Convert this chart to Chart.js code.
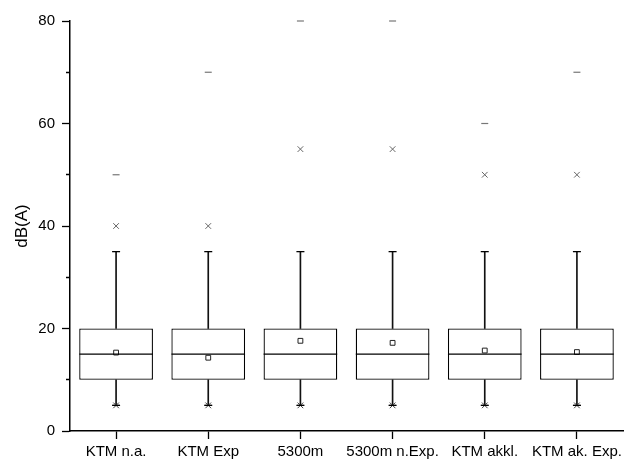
<!DOCTYPE html>
<html>
<head>
<meta charset="utf-8">
<script src="https://cdn.jsdelivr.net/npm/chart.js@4"></script>
<style>
  html, body { margin: 0; padding: 0; background: #fff; }
  #wrap { width: 625px; height: 461px; }
</style>
</head>
<body>
<div id="wrap"><canvas id="boxChart"></canvas></div>
<script>
var categories = ['KTM n.a.', 'KTM Exp', '5300m', '5300m n.Exp.', 'KTM akkl.', 'KTM ak. Exp.'];
var q1 = [10, 10, 10, 10, 10, 10];
var q3 = [20, 20, 20, 20, 20, 20];
var medians = [15, 15, 15, 15, 15, 15];
var means = [15.3, 14.3, 17.6, 17.2, 15.7, 15.4];
var whiskerLow = [5, 5, 5, 5, 5, 5];
var whiskerHigh = [35, 35, 35, 35, 35, 35];
var p1 = [5, 5, 5, 5, 5, 5];
var p99 = [40, 40, 55, 55, 50, 50];
var minVals = [5, 5, 5, 5, 5, 5];
var maxVals = [50, 70, 80, 80, 60, 70];
var yTicks = [0, 20, 40, 60, 80];

var fontFamily = '"Liberation Sans", Arial, sans-serif';

function pairs(a, b) {
  return a.map(function(v, i) { return [v, b[i]]; });
}

function markers(data, style, radius, color, width, fill) {
  return {
    type: 'line',
    data: data,
    showLine: false,
    grouped: false,
    clip: false,
    order: 0,
    pointStyle: style,
    pointRadius: radius,
    pointHoverRadius: radius,
    pointBorderColor: color,
    pointBackgroundColor: fill || color,
    pointBorderWidth: width
  };
}

function whisker(lo, hi) {
  return {
    type: 'bar',
    data: pairs(lo, hi),
    grouped: false,
    order: 9,
    barThickness: 1,
    backgroundColor: '#111',
    borderWidth: 0
  };
}

// no extra room for overflowing labels, the layout padding does that
function noPad(scale) {
  scale.paddingTop = 0;
  scale.paddingBottom = 0;
  scale.paddingLeft = 0;
  scale.paddingRight = 0;
}

function printBoxChart(outputId) {
  var ctx = document.getElementById(outputId);
  new Chart(ctx, {
    type: 'bar',
    data: {
      labels: categories,
      datasets: [
        {
          type: 'bar',
          data: pairs(q1, q3),
          grouped: false,
          order: 10,
          backgroundColor: '#fff',
          borderColor: '#000',
          borderWidth: 1.3,
          borderSkipped: false,
          barPercentage: 0.8,
          categoryPercentage: 1
        },
        whisker(q3, whiskerHigh),
        whisker(whiskerLow, q1),
        markers(whiskerHigh, 'line', 4, '#000', 1.3),
        markers(whiskerLow, 'line', 4, '#000', 1.3),
        markers(medians, 'line', 36.8, '#000', 1.3),
        markers(means, 'rect', 3.4, '#222', 1, '#fff'),
        markers(p99, 'crossRot', 4, '#666', 1),
        markers(p1, 'crossRot', 4, '#444', 1),
        markers(maxVals, 'line', 3.5, '#777', 1.2),
        markers(minVals, 'line', 3.5, '#444', 1.2)
      ]
    },
    options: {
      responsive: true,
      maintainAspectRatio: false,
      animation: false,
      layout: { autoPadding: false, padding: { top: 21, right: 2, left: 0, bottom: 0 } },
      plugins: { legend: { display: false }, tooltip: { enabled: false } },
      scales: {
        x: {
          offset: true,
          afterFit: function(scale) { scale.height = 30; noPad(scale); },
          grid: { drawOnChartArea: false, offset: false, tickLength: 8, tickColor: '#000', tickWidth: 1.3 },
          border: { color: '#000', width: 1.5 },
          ticks: {
            color: '#000',
            padding: 4,
            maxRotation: 0,
            minRotation: 0,
            autoSkip: false,
            font: { family: fontFamily, size: 15 }
          }
        },
        y: {
          min: 0,
          max: 80,
          afterFit: function(scale) { scale.width = 70; noPad(scale); },
          grid: {
            drawOnChartArea: false,
            tickLength: 8,
            tickColor: '#000',
            tickWidth: 1.3,
            tickBorderDash: function(c) { return yTicks.indexOf(c.tick.value) >= 0 ? [] : [0, 4, 4, 100]; }
          },
          border: { color: '#000', width: 1.5 },
          ticks: {
            stepSize: 10,
            color: '#000',
            padding: 7,
            font: { family: fontFamily, size: 15 },
            callback: function(v) { return yTicks.indexOf(v) >= 0 ? v : ''; }
          },
          title: {
            display: true,
            text: 'dB(A)',
            color: '#000',
            padding: { top: 12, bottom: 0 },
            font: { family: fontFamily, size: 17 }
          }
        }
      }
    }
  });
}

printBoxChart('boxChart');
</script>
</body>
</html>
